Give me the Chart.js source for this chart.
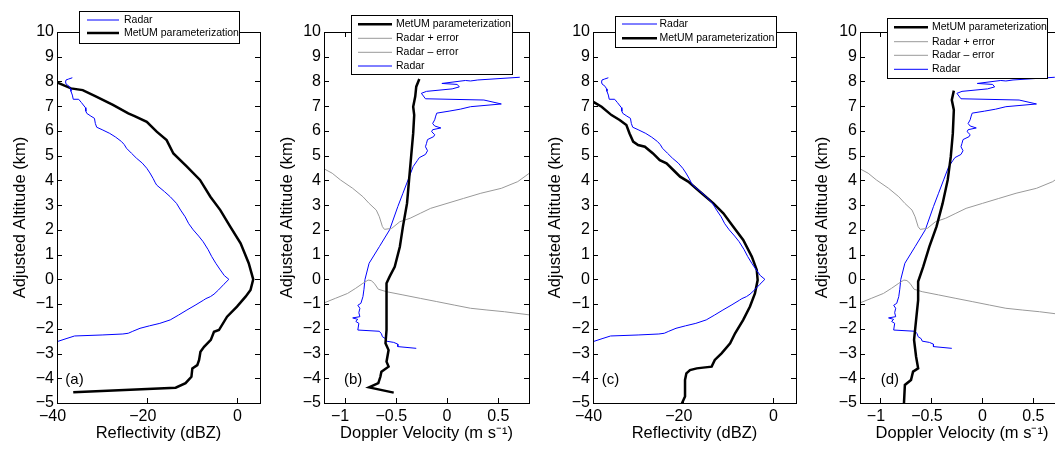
<!DOCTYPE html>
<html><head><meta charset="utf-8">
<script src="https://cdn.jsdelivr.net/npm/chart.js@4"></script>
<style>
html,body{margin:0;padding:0;background:#fff;overflow:hidden;width:1055px;height:450px}
#wrap{position:relative;width:1055px;height:450px;overflow:hidden;background:#fff}
canvas{position:absolute;top:0}
</style></head><body><div id="wrap">
<canvas id="pa" width="268" height="450" style="left:0px"></canvas>
<canvas id="pb" width="270" height="450" style="left:268px"></canvas>
<canvas id="pc" width="266" height="450" style="left:538px"></canvas>
<canvas id="pd" width="268" height="450" style="left:804px"></canvas>
</div>
<script>
// ---- tick labels ----
const altTicks = [-5,-4,-3,-2,-1,0,1,2,3,4,5,6,7,8,9,10];
const reflTicks = [-40,-20,0];
const velTicks = [-1,-0.5,0,0.5];

// ---- Radar reflectivity (panels a, c) ----
const radarReflAlt = [8.15,8.10,8.06,7.98,7.90,7.80,7.70,7.60,7.45,7.28,7.28,7.15,6.94,6.80,6.71,6.60,6.51,6.30,6.15,6.05,5.90,5.75,5.57,5.45,5.30,5.10,4.90,4.70,4.49,4.30,4.08,3.90,3.81,3.55,3.34,3.07,2.80,2.53,2.25,2.00,1.75,1.52,1.20,0.92,0.65,0.38,0.15,0.00,-0.20,-0.43,-0.60,-0.70,-0.78,-0.84,-1.05,-1.24,-1.45,-1.64,-1.78,-1.88,-1.98,-2.10,-2.18,-2.21,-2.25,-2.29,-2.40,-2.52,-2.65];
const radarReflDbz = [-36.6,-37.4,-38.0,-38.1,-38.0,-37.3,-37.0,-36.9,-36.6,-36.4,-35.2,-34.6,-33.7,-33.6,-33.4,-32.5,-31.7,-31.5,-31.2,-30.0,-28.3,-27.0,-25.7,-25.1,-24.6,-23.5,-22.4,-21.1,-20.1,-19.4,-18.7,-18.2,-17.9,-16.2,-14.9,-13.5,-12.6,-11.6,-10.8,-9.8,-8.6,-7.6,-6.5,-5.7,-4.8,-3.8,-2.9,-1.9,-3.0,-4.2,-5.2,-6.0,-7.0,-7.5,-9.4,-11.2,-13.1,-14.9,-17.2,-19.5,-21.6,-23.2,-24.2,-25.4,-30.0,-36.1,-38.0,-40.0,-42.5];

// ---- MetUM reflectivity, panel a ----
const metReflAAlt = [8.00,7.96,7.72,7.65,7.39,7.05,6.71,6.60,6.37,5.97,5.63,5.09,4.56,4.02,3.34,2.80,2.13,1.46,0.65,0.00,-0.43,-0.70,-1.10,-1.51,-2.05,-2.12,-2.45,-2.73,-2.93,-3.26,-3.47,-3.60,-3.94,-4.20,-4.38,-4.57];
const metReflADbz = [-41.0,-40.0,-36.9,-34.3,-31.3,-27.6,-24.2,-22.8,-20.1,-17.9,-15.7,-14.2,-11.2,-8.3,-6.0,-3.8,-1.6,0.7,2.5,3.5,2.9,1.8,-0.1,-2.3,-4.1,-5.2,-5.9,-7.4,-8.2,-8.5,-8.9,-10.0,-10.2,-11.5,-13.7,-36.4];

// ---- MetUM reflectivity, panel c ----
const metReflCAlt = [7.25,7.18,6.98,6.64,6.44,6.24,5.90,5.57,5.43,5.36,5.09,4.82,4.69,4.42,4.15,3.95,3.54,3.07,2.67,2.13,1.59,0.92,0.38,-0.03,-0.57,-1.10,-1.64,-2.18,-2.59,-2.99,-3.26,-3.53,-3.57,-3.60,-3.67,-3.80,-4.07,-4.74,-5.10];
const metReflCDbz = [-41.0,-40.0,-38.1,-35.9,-34.1,-32.6,-31.9,-31.1,-30.0,-28.5,-26.7,-25.2,-23.7,-22.2,-20.7,-18.9,-16.3,-13.3,-11.1,-8.9,-6.7,-4.8,-3.7,-3.5,-4.1,-5.2,-6.7,-8.5,-9.6,-11.5,-13.0,-13.7,-15.6,-17.0,-18.5,-19.3,-19.6,-19.6,-20.5];

// ---- Radar Doppler velocity (panels b, d) ----
const radarVelAlt = [8.17,8.06,8.02,8.04,7.92,7.88,7.78,7.70,7.60,7.52,7.30,7.25,7.09,6.98,6.88,6.80,6.72,6.60,6.45,6.30,6.20,6.12,6.05,5.97,5.85,5.77,5.65,5.50,5.36,5.20,5.05,4.92,4.80,4.56,4.02,3.48,2.94,2.00,1.32,0.65,0.00,-0.40,-0.70,-0.97,-1.05,-1.17,-1.35,-1.51,-1.56,-1.62,-1.70,-1.78,-2.05,-2.10,-2.20,-2.32,-2.40,-2.50,-2.55,-2.62,-2.72,-2.79];
const radarVelMs = [0.71,0.30,0.23,0.18,-0.05,0.10,0.12,0.05,-0.20,-0.25,-0.21,0.36,0.53,0.23,0.13,0.02,-0.10,-0.11,-0.12,-0.14,-0.12,-0.06,-0.14,-0.15,-0.12,-0.13,-0.19,-0.20,-0.21,-0.19,-0.21,-0.27,-0.29,-0.33,-0.38,-0.43,-0.48,-0.56,-0.66,-0.76,-0.80,-0.81,-0.82,-0.84,-0.87,-0.85,-0.86,-0.85,-0.92,-0.87,-0.89,-0.86,-0.87,-0.66,-0.64,-0.63,-0.60,-0.59,-0.52,-0.48,-0.48,-0.30];

// ---- Radar + error / Radar - error ----
const radarPlusErrAlt = [4.49,4.29,4.02,3.68,3.34,3.07,2.80,2.53,2.13,2.02,2.06,2.33,2.47,2.67,2.87,3.07,3.27,3.48,3.68,3.95,4.31];
const radarPlusErrMs = [-1.21,-1.12,-1.04,-0.92,-0.82,-0.76,-0.69,-0.66,-0.63,-0.61,-0.54,-0.46,-0.36,-0.26,-0.16,0.00,0.16,0.33,0.53,0.69,0.81];
const radarMinusErrAlt = [-0.97,-0.77,-0.57,-0.36,-0.16,-0.03,-0.05,-0.16,-0.40,-0.50,-0.63,-0.77,-0.90,-1.04,-1.17,-1.24,-1.31,-1.44];
const radarMinusErrMs = [-1.21,-1.09,-0.97,-0.89,-0.82,-0.77,-0.74,-0.71,-0.67,-0.59,-0.43,-0.26,-0.10,0.07,0.23,0.39,0.56,0.81];

// ---- MetUM Doppler velocity, panel b ----
const metVelBAlt = [8.10,7.79,7.39,6.98,6.64,5.90,4.96,4.02,3.07,2.13,1.32,0.51,0.11,-0.16,-1.10,-2.05,-2.59,-2.86,-3.33,-3.53,-3.74,-3.94,-4.20,-4.37,-4.58];
const metVelBMs = [-0.27,-0.30,-0.31,-0.33,-0.32,-0.33,-0.35,-0.37,-0.39,-0.43,-0.46,-0.51,-0.56,-0.59,-0.59,-0.59,-0.60,-0.57,-0.59,-0.57,-0.64,-0.65,-0.67,-0.76,-0.52];

// ---- MetUM Doppler velocity, panel d ----
const metVelDAlt = [7.63,7.25,6.85,5.90,4.96,4.02,3.07,2.13,1.32,0.51,-0.09,-0.84,-1.64,-2.45,-3.13,-3.60,-3.73,-4.07,-4.27,-5.10];
const metVelDMs = [-0.28,-0.30,-0.28,-0.29,-0.31,-0.34,-0.39,-0.45,-0.52,-0.58,-0.63,-0.63,-0.65,-0.67,-0.65,-0.63,-0.68,-0.70,-0.76,-0.77];

const FONT = "'Liberation Sans', Arial, Helvetica, sans-serif";
const BLUE = '#0000ff', BLACK = '#000000', GRAY = '#999999';

function pts(xs, ys) { return xs.map((v, i) => ({x: v, y: ys[i]})); }
function fmt(v) { return String(Math.round(v * 100) / 100).replace('-', '\u2212'); }
// x labels: digits centred on the tick, minus sign hanging to the left (as in the original)
function fmtX(v) { const s = fmt(v); return v < 0 ? s + '\u2007' : s; }
function ds(label, xs, ys, color, w) {
  return {label, data: pts(xs, ys), showLine: true, borderColor: color, backgroundColor: color,
          borderWidth: w, pointRadius: 0, tension: 0};
}

const framePlugin = {
  id: 'frame',
  afterDatasetsDraw(chart, args, o) {
    const ctx = chart.ctx, a = chart.chartArea;
    const xs = chart.scales.x, ys = chart.scales.y;
    ctx.save();
    ctx.strokeStyle = '#000'; ctx.lineWidth = 1;
    ctx.strokeRect(Math.round(a.left) + 0.5, Math.round(a.top) + 0.5, Math.round(a.right - a.left), Math.round(a.bottom - a.top));
    ctx.beginPath();
    const L = 5;
    xs.ticks.forEach(t => {
      const px = Math.round(xs.getPixelForValue(t.value)) + 0.5;
      ctx.moveTo(px, a.bottom); ctx.lineTo(px, a.bottom - L);
      ctx.moveTo(px, a.top); ctx.lineTo(px, a.top + L);
    });
    ys.ticks.forEach(t => {
      const py = Math.round(ys.getPixelForValue(t.value)) + 0.5;
      ctx.moveTo(a.left, py); ctx.lineTo(a.left + L, py);
      ctx.moveTo(a.right, py); ctx.lineTo(a.right - L, py);
    });
    ctx.stroke();
    ctx.restore();
  },
  afterDraw(chart, args, o) {
    const ctx = chart.ctx, a = chart.chartArea, lg = o.legend;
    ctx.save();
    // panel label
    ctx.fillStyle = '#000';
    ctx.font = '15px ' + FONT;
    ctx.textAlign = 'left'; ctx.textBaseline = 'middle';
    ctx.fillText(o.tag, a.left + o.tagDx, o.tagY);
    // legend
    ctx.fillStyle = '#fff';
    ctx.fillRect(lg.x, lg.y, lg.w, lg.h);
    ctx.strokeStyle = '#000'; ctx.lineWidth = 1;
    ctx.strokeRect(Math.round(lg.x) + 0.5, Math.round(lg.y) + 0.5, Math.round(lg.w), Math.round(lg.h));
    ctx.beginPath(); ctx.rect(lg.x, lg.y, lg.w, lg.h); ctx.clip();
    chart.data.datasets.forEach((d, i) => {
      const y = lg.rows[i];
      ctx.beginPath();
      ctx.strokeStyle = d.borderColor; ctx.lineWidth = d.borderWidth;
      ctx.moveTo(lg.x0, y); ctx.lineTo(lg.x1, y); ctx.stroke();
      ctx.fillStyle = '#000';
      ctx.font = '10.5px ' + FONT;
      ctx.textAlign = 'left'; ctx.textBaseline = 'middle';
      ctx.fillText(d.label, lg.tx, y);
    });
    ctx.restore();
  }
};

function makeChart(id, p) {
  const font16 = {family: FONT, size: 16};
  const fontT = {family: FONT, size: 16.5};
  return new Chart(document.getElementById(id), {
    type: 'scatter',
    data: {datasets: p.datasets},
    options: {
      responsive: false, animation: false, devicePixelRatio: 1,
      layout: {padding: {left: 0, right: p.pr, top: 32, bottom: 0}},
      plugins: {legend: {display: false}, tooltip: {enabled: false},
                frame: {legend: p.legend, tag: p.tag, tagDx: p.tagDx, tagY: 380}},
      scales: {
        x: {type: 'linear', position: 'bottom', min: p.xmin, max: p.xmax,
            afterFit(s) { s.height = 47; },
            afterBuildTicks(s) { s.ticks = p.xticks.map(v => ({value: v})); },
            grid: {display: false, drawTicks: false}, border: {display: false},
            ticks: {padding: 4, font: font16, color: '#000', callback: fmtX, maxRotation: 0, autoSkip: false},
            title: {display: true, text: p.xtitle, font: fontT, color: '#000', padding: {top: 0, bottom: 6.4}}},
        y: {type: 'linear', position: 'left', min: -5, max: 10,
            afterFit(s) { s.width = p.yW; },
            afterBuildTicks(s) { s.ticks = altTicks.map(v => ({value: v})); },
            grid: {display: false, drawTicks: false}, border: {display: false},
            ticks: {padding: 3, font: font16, color: '#000', callback: fmt, autoSkip: false},
            title: {display: true, text: 'Adjusted Altitude (km)', font: fontT, color: '#000', padding: {top: p.tp, bottom: 0}}}
      }
    },
    plugins: [framePlugin]
  });
}

const reflTitle = 'Reflectivity (dBZ)';
const velTitle = 'Doppler Velocity (m s\u207B\u00B9)';

makeChart('pa', {
  datasets: [ds('Radar', radarReflDbz, radarReflAlt, BLUE, 1), ds('MetUM parameterization', metReflADbz, metReflAAlt, BLACK, 2.5)],
  xmin: -40, xmax: 5, xticks: reflTicks, xtitle: reflTitle, yW: 57, pr: 8, tp: 10.1,
  tag: '(a)', tagDx: 8.3,
  legend: {x: 79, y: 11, w: 160, h: 32, rows: [20, 33], x0: 87, x1: 119, tx: 124}
});
makeChart('pb', {
  datasets: [ds('MetUM parameterization', metVelBMs, metVelBAlt, BLACK, 2.5), ds('Radar + error', radarPlusErrMs, radarPlusErrAlt, GRAY, 1),
             ds('Radar \u2013 error', radarMinusErrMs, radarMinusErrAlt, GRAY, 1), ds('Radar', radarVelMs, radarVelAlt, BLUE, 1)],
  xmin: -1.2, xmax: 0.8, xticks: velTicks, xtitle: velTitle, yW: 56, pr: 9, tp: 9.8,
  tag: '(b)', tagDx: 20,
  legend: {x: 83, y: 15, w: 161, h: 59, rows: [24.3, 38.3, 52.3, 66], x0: 90, x1: 124, tx: 128}
});
makeChart('pc', {
  datasets: [ds('Radar', radarReflDbz, radarReflAlt, BLUE, 1), ds('MetUM parameterization', metReflCDbz, metReflCAlt, BLACK, 2.5)],
  xmin: -40, xmax: 5, xticks: reflTicks, xtitle: reflTitle, yW: 55, pr: 8, tp: 7.4,
  tag: '(c)', tagDx: 8.7,
  legend: {x: 77, y: 16, w: 161, h: 31, rows: [24, 38.3], x0: 84, x1: 119, tx: 121.5}
});
makeChart('pd', {
  datasets: [ds('MetUM parameterization', metVelDMs, metVelDAlt, BLACK, 2.5), ds('Radar + error', radarPlusErrMs, radarPlusErrAlt, GRAY, 1),
             ds('Radar \u2013 error', radarMinusErrMs, radarMinusErrAlt, GRAY, 1), ds('Radar', radarVelMs, radarVelAlt, BLUE, 1)],
  xmin: -1.2, xmax: 0.8, xticks: velTicks, xtitle: velTitle, yW: 56, pr: 8, tp: 8.8,
  tag: '(d)', tagDx: 20.7,
  legend: {x: 83, y: 18, w: 160, h: 60, rows: [27.3, 41.7, 55.3, 69.3], x0: 90, x1: 124, tx: 128}
});
</script>
</body></html>
